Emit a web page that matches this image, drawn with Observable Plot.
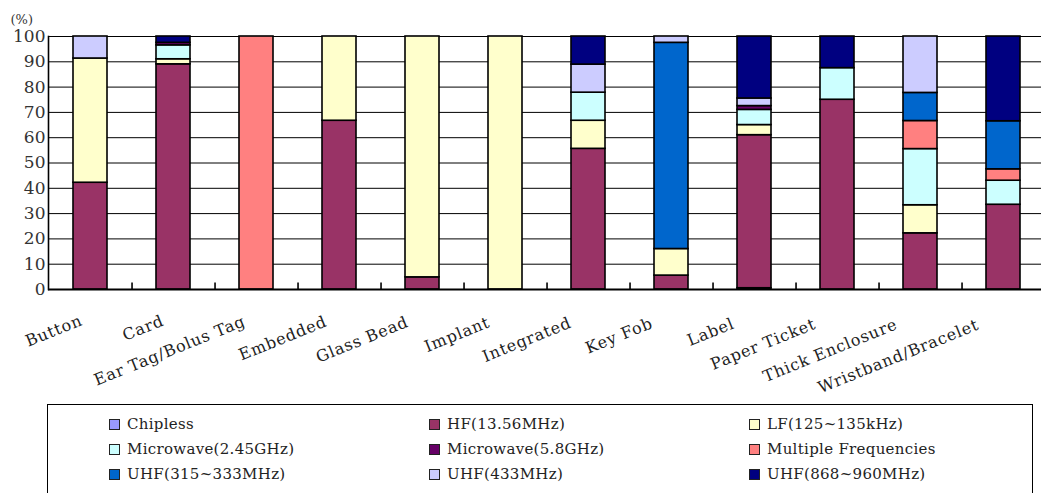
<!DOCTYPE html>
<html>
<head>
<meta charset="utf-8">
<script src="https://cdn.jsdelivr.net/npm/d3@7"></script>
<script src="https://cdn.jsdelivr.net/npm/@observablehq/plot@0.6"></script>
<style>
  html, body { margin: 0; padding: 0; background: #fff; }
  #chart { width: 1041px; }
  #chart svg { display: block; }
</style>
</head>
<body>
<div id="chart"></div>
<script>
const categories = ["Button","Card","Ear Tag/Bolus Tag","Embedded","Glass Bead","Implant","Integrated","Key Fob","Label","Paper Ticket","Thick Enclosure","Wristband/Bracelet"];

const seriesNames = ["Chipless","HF(13.56MHz)","LF(125~135kHz)","Microwave(2.45GHz)","Microwave(5.8GHz)","Multiple Frequencies","UHF(315~333MHz)","UHF(433MHz)","UHF(868~960MHz)"];
const seriesColors = ["#9999FF","#993366","#FFFFCC","#CCFFFF","#660066","#FF8080","#0066CC","#CCCCFF","#000080"];

const chipless = [0,0,0,0,0,0,0,0,0.5,0,0,0];
const hf       = [42.2,89,0,66.7,4.8,0,55.6,5.5,60.5,75,22.2,33.5];
const lf       = [49.1,2,0,33.3,95.2,100,11.1,10.5,4,0,11.1,0];
const mw245    = [0,5.5,0,0,0,0,11.1,0,6,12.5,22.2,9.5];
const mw58     = [0,1,0,0,0,0,0,0,1.5,0,0,0];
const multi    = [0,0,100,0,0,0,0,0,0,0,11.1,4.5];
const uhf315   = [0,0,0,0,0,0,0,81.5,0,0,11.1,19];
const uhf433   = [8.7,0,0,0,0,0,11.1,2.5,3,0,22.3,0];
const uhf868   = [0,2.5,0,0,0,0,11.1,0,24.5,12.5,0,33.5];

const yTicks = [0,10,20,30,40,50,60,70,80,90,100];
const yUnit = "(%)";

const seriesValues = [chipless, hf, lf, mw245, mw58, multi, uhf315, uhf433, uhf868];
const table = [];
seriesNames.forEach((s, i) => {
  categories.forEach((c, j) => {
    const v = seriesValues[i][j];
    if (v > 0) table.push({category: c, series: s, value: v});
  });
});

const SERIF = "'DejaVu Serif', serif";
const W = 1041, H = 400, mL = 48, mT = 36, mB = 111;
const xRange = [mL, 1045];
const step = (xRange[1] - xRange[0]) / categories.length;

const plot = Plot.plot({
  width: W,
  height: H,
  marginLeft: mL,
  marginRight: 0,
  marginTop: mT,
  marginBottom: mB,
  x: {domain: categories, range: xRange, paddingInner: 0.59, paddingOuter: 0.295, axis: null},
  y: {domain: [0, 100], axis: null},
  color: {domain: seriesNames, range: seriesColors},
  style: {fontFamily: SERIF, background: "#fff"},
  marks: [
    Plot.ruleY(yTicks, {stroke: "#000", strokeWidth: 1}),
    Plot.barY(table, Plot.stackY({order: seriesNames}, {
      x: "category", y: "value", z: "series", fill: "series",
      stroke: "#000", strokeWidth: 1.6
    })),
    Plot.ruleY([0], {stroke: "#000", strokeWidth: 2.2}),
    Plot.frame({anchor: "left", stroke: "#000", strokeWidth: 1.6}),
    Plot.ruleX(categories.slice(0, -1), {x: d => d, dx: step / 2, y1: 0, y2: 2.6, stroke: "#000", strokeWidth: 1.6}),
    Plot.text(yTicks, {
      y: d => d, frameAnchor: "left", dx: -3, text: d => String(d),
      textAnchor: "end", fontSize: 17, fill: "#333"
    }),
    Plot.text([yUnit], {
      frameAnchor: "top-left", dx: -38, dy: -22, text: d => d,
      textAnchor: "start", fontSize: 13, fill: "#333"
    }),
    Plot.text(categories, {
      x: d => d, frameAnchor: "bottom", text: d => d,
      dx: -7, dy: 35, rotate: -22, textAnchor: "end", lineAnchor: "bottom",
      fontSize: 16, fill: "#222"
    })
  ]
});

// category labels: wider letter spacing and the slight leftward drift of the reference
d3.select(plot).selectAll("g[aria-label='text']").filter((d, i) => i === 2)
  .selectAll("text")
  .style("letter-spacing", "0.8px")
  .each(function(d, i) {
    const t = this.getAttribute("transform") || "";
    this.setAttribute("transform", `translate(${-1.5 * i},${0.4 * i}) ` + t);
  });

const chart = document.getElementById("chart");
chart.appendChild(plot);

const legend = document.createElement("div");
Object.assign(legend.style, {
  position: "relative", margin: "4px 0 0 47px", width: "986px", height: "110px",
  border: "1.5px solid #000", boxSizing: "border-box", background: "#fff",
  fontFamily: SERIF, fontSize: "15px", color: "#222"
});
const colLeft = [61, 381, 701];
const rowTop = [9, 34, 59];
seriesNames.forEach((s, i) => {
  const it = document.createElement("div");
  Object.assign(it.style, {
    position: "absolute", left: colLeft[i % 3] + "px", top: rowTop[Math.floor(i / 3)] + "px",
    height: "20px", lineHeight: "20px", whiteSpace: "nowrap", fontFamily: SERIF
  });
  const sw = document.createElement("div");
  Object.assign(sw.style, {
    position: "absolute", left: "0px", top: "4.5px", width: "9px", height: "9px",
    border: "1.5px solid #222", background: seriesColors[i]
  });
  const lb = document.createElement("div");
  Object.assign(lb.style, {position: "absolute", left: "18px", top: "0px", fontFamily: SERIF, letterSpacing: "0.3px"});
  lb.textContent = s;
  it.appendChild(sw);
  it.appendChild(lb);
  legend.appendChild(it);
});
chart.appendChild(legend);
</script>
</body>
</html>
